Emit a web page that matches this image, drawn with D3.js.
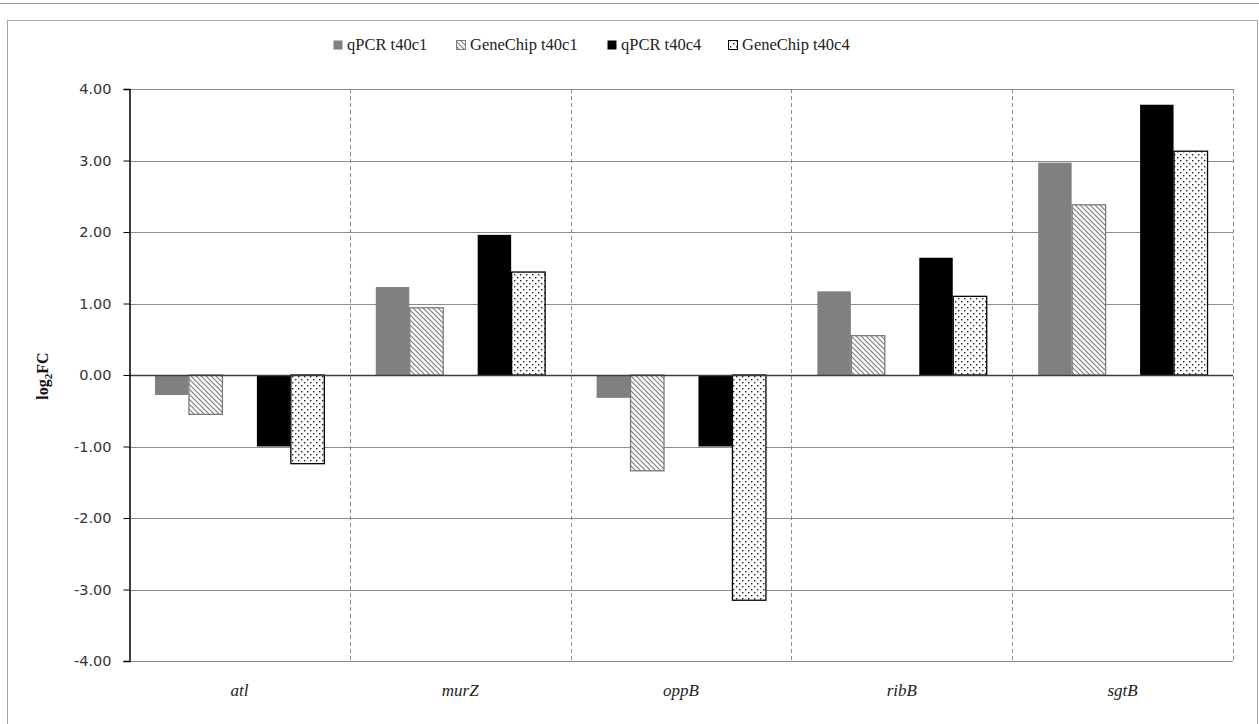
<!DOCTYPE html>
<html>
<head>
<meta charset="utf-8">
<script src="https://cdn.jsdelivr.net/npm/d3@7"></script>
<style>
  body { margin: 0; background: #fff; }
  svg { display: block; }
</style>
</head>
<body>
<div id="graf"></div>
<script>
// -- Datos
genes = ['atl', 'murZ', 'oppB', 'ribB', 'sgtB']
series = ['qPCR t40c1', 'GeneChip t40c1', 'qPCR t40c4', 'GeneChip t40c4']
qpcrC1 = [-0.28, 1.23, -0.32, 1.17, 2.97]
chipC1 = [-0.55, 0.94, -1.34, 0.55, 2.38]
qpcrC4 = [-1.00, 1.96, -1.00, 1.64, 3.78]
chipC4 = [-1.24, 1.44, -3.15, 1.10, 3.13]
yTicks = [4, 3, 2, 1, 0, -1, -2, -3, -4]

valores = [qpcrC1, chipC1, qpcrC4, chipC4]
// slots de Excel: 5 series, la del medio vacía
slots = ['s0', 's1', 'vacio', 's2', 's3']

// -- Configuración del canvas
ancho_total = 1259
alto_total = 724
svg = d3.select('#graf').append('svg')
        .attr('width', ancho_total)
        .attr('height', alto_total)

defs = svg.append('defs')
// rayado diagonal
hatch = defs.append('pattern')
        .attr('id', 'rayas')
        .attr('patternUnits', 'userSpaceOnUse')
        .attr('width', 5).attr('height', 5)
hatch.append('rect').attr('width', 5).attr('height', 5).attr('fill', '#fff')
hatch.append('path')
        .attr('d', 'M-1,-1 L6,6 M-1,4 L1,6 M4,-1 L6,1')
        .attr('stroke', '#7a7a7a').attr('stroke-width', 1.1)
// puntos
dots = defs.append('pattern')
        .attr('id', 'puntos')
        .attr('patternUnits', 'userSpaceOnUse')
        .attr('width', 6).attr('height', 6)
dots.append('rect').attr('width', 6).attr('height', 6).attr('fill', '#fff')
dots.append('rect').attr('x', 1).attr('y', 1).attr('width', 1.4).attr('height', 1.4).attr('fill', '#222')
dots.append('rect').attr('x', 4).attr('y', 4).attr('width', 1.4).attr('height', 1.4).attr('fill', '#222')

estilos = [
  {fill: '#808080', stroke: 'none'},
  {fill: 'url(#rayas)', stroke: '#7a7a7a'},
  {fill: '#000', stroke: 'none'},
  {fill: 'url(#puntos)', stroke: '#000'}
]

// -- Marcos
svg.append('line').attr('x1', 0).attr('x2', ancho_total).attr('y1', 3.5).attr('y2', 3.5)
   .attr('stroke', '#9a9a9a')
svg.append('rect').attr('x', 7.5).attr('y', 20.5).attr('width', 1250).attr('height', 720)
   .attr('fill', 'none').attr('stroke', '#a6a6a6')

// -- Escaladores
x = d3.scaleBand().domain(genes).range([129, 1233]).padding(0)
xs = d3.scaleBand().domain(slots).range([0, x.bandwidth()]).paddingInner(0).paddingOuter(0.75)
y = d3.scaleLinear().domain([-4, 4]).range([661, 89])

g = svg.append('g')

// -- Grid horizontal
g.selectAll('.grid').data(yTicks.filter(d => d !== 0)).enter()
  .append('line')
  .attr('x1', 129).attr('x2', 1233)
  .attr('y1', d => Math.round(y(d)) + 0.5).attr('y2', d => Math.round(y(d)) + 0.5)
  .attr('stroke', '#8c8c8c').attr('stroke-width', 1.2)

// -- Separadores verticales punteados
g.selectAll('.sep').data(genes).enter()
  .append('line')
  .attr('x1', d => Math.round(x(d) + x.bandwidth()) + 0.5)
  .attr('x2', d => Math.round(x(d) + x.bandwidth()) + 0.5)
  .attr('y1', y(4)).attr('y2', y(-4))
  .attr('stroke', '#8c8c8c').attr('stroke-dasharray', '4,3')

// -- Barras
series.forEach((s, i) => {
  g.selectAll('.b' + i).data(genes).enter()
    .append('rect')
    .attr('x', d => x(d) + xs(slots[i < 2 ? i : i + 1]) + 0.5)
    .attr('width', xs.bandwidth() - 0.5)
    .attr('y', (d, j) => Math.min(y(valores[i][j]), y(0)))
    .attr('height', (d, j) => Math.abs(y(valores[i][j]) - y(0)))
    .attr('fill', estilos[i].fill)
    .attr('stroke', estilos[i].stroke)
    .attr('stroke-width', 1.3)
})

// -- Línea cero
g.append('line').attr('x1', 129).attr('x2', 1233)
  .attr('y1', Math.round(y(0)) + 0.5).attr('y2', Math.round(y(0)) + 0.5)
  .attr('stroke', '#3c3c3c').attr('stroke-width', 1.6)

// -- Eje Y
fmt = d3.format('.2f')
yAxis = d3.axisLeft(y).tickValues(yTicks)
          .tickFormat(d => fmt(d).replace('\u2212', '-'))
          .tickSize(6).tickPadding(12)
ya = g.append('g').attr('transform', 'translate(129.5,0)').call(yAxis)
ya.select('.domain').attr('stroke', '#000').attr('stroke-width', 1.5)
ya.selectAll('.tick line').attr('stroke', '#000')
ya.selectAll('text').attr('font-family', 'DejaVu Sans').attr('font-size', '14.5px').attr('fill', '#333')

// -- Etiquetas X
g.selectAll('.xl').data(genes).enter()
  .append('text')
  .attr('x', d => x(d) + x.bandwidth() / 2)
  .attr('y', 696)
  .attr('text-anchor', 'middle')
  .attr('font-family', 'Liberation Serif')
  .attr('font-style', 'italic')
  .attr('font-size', '17px')
  .attr('fill', '#222')
  .text(d => d)

// -- Título eje Y
yt = svg.append('text')
  .attr('transform', 'translate(48,376) rotate(-90)')
  .attr('text-anchor', 'middle')
  .attr('font-family', 'Liberation Serif')
  .attr('font-weight', 'bold')
  .attr('font-size', '16px')
  .attr('fill', '#111')
yt.append('tspan').text('log')
yt.append('tspan').attr('dy', 4).attr('font-size', '11px').text('2')
yt.append('tspan').attr('dy', -4).text('FC')

// -- Leyenda
leyX = [333, 456, 607, 728]
ley = svg.append('g')
series.forEach((s, i) => {
  ley.append('rect')
    .attr('x', leyX[i] + 0.5).attr('y', 40.5)
    .attr('width', 9).attr('height', 9)
    .attr('fill', estilos[i].fill)
    .attr('stroke', estilos[i].stroke === 'none' ? 'none' : estilos[i].stroke)
  ley.append('text')
    .attr('x', leyX[i] + 14).attr('y', 50)
    .attr('font-family', 'Liberation Serif')
    .attr('font-size', '16.5px')
    .attr('fill', '#222')
    .text(s)
})
</script>
</body>
</html>
